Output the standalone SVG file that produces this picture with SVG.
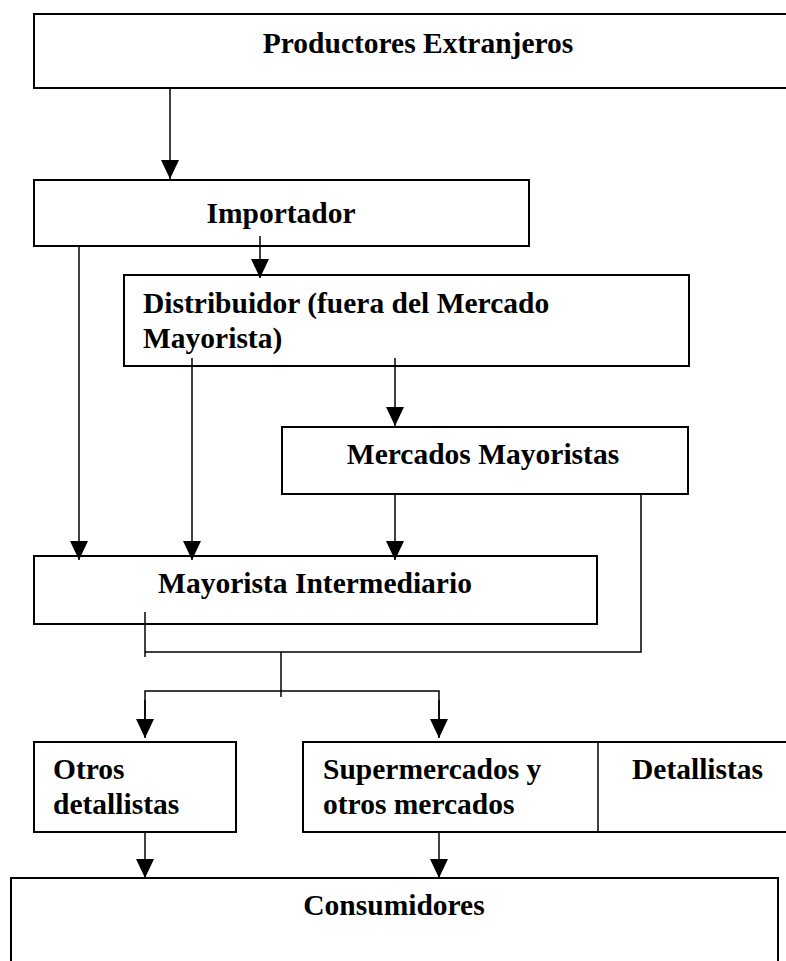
<svg xmlns="http://www.w3.org/2000/svg" width="786" height="961" viewBox="0 0 786 961">
<defs>
<marker id="ah" markerUnits="userSpaceOnUse" markerWidth="20" markerHeight="20" refX="19" refY="9" orient="auto">
<path d="M0,0 L19,9 L0,18 Z" fill="#000"/>
</marker>
<style>
.box{fill:#fff;stroke:#000;stroke-width:2}
.ln{fill:none;stroke:#000;stroke-width:1.5}
.arr{fill:none;stroke:#000;stroke-width:1.5;marker-end:url(#ah)}
text{font-family:"Liberation Serif","Times New Roman",serif;font-weight:bold;font-size:29.5px;fill:#000}
.c{text-anchor:middle}
</style>
</defs>
<rect width="786" height="961" fill="#fff"/>
<g id="productores">
<rect class="box" x="34" y="14" width="780" height="74"/>
<text class="c" x="418" y="53">Productores Extranjeros</text>
</g>
<g id="importador">
<rect class="box" x="34" y="180" width="495" height="66"/>
<text class="c" x="281" y="223">Importador</text>
</g>
<g id="distribuidor">
<rect class="box" x="124" y="275" width="565" height="91"/>
<text x="143" y="313">Distribuidor (fuera del Mercado</text>
<text x="143" y="348">Mayorista)</text>
</g>
<g id="mercados">
<rect class="box" x="282" y="427" width="406" height="67"/>
<text class="c" x="483" y="464">Mercados Mayoristas</text>
</g>
<g id="mayorista">
<rect class="box" x="34" y="556" width="563" height="68"/>
<text class="c" x="315" y="593">Mayorista Intermediario</text>
</g>
<g id="otros">
<rect class="box" x="34" y="742" width="202" height="90"/>
<text x="53" y="779">Otros</text>
<text x="53" y="814">detallistas</text>
</g>
<g id="supermercados">
<rect class="box" x="303" y="742" width="520" height="90"/>
<line x1="598" y1="742" x2="598" y2="832" stroke="#000" stroke-width="1.5"/>
<text x="323" y="779">Supermercados y</text>
<text x="323" y="814">otros mercados</text>
<text x="632" y="779">Detallistas</text>
</g>
<g id="consumidores">
<rect class="box" x="11" y="878" width="767" height="120"/>
<text class="c" x="394" y="915">Consumidores</text>
</g>
<g id="connectors">
<line class="arr" x1="170" y1="88" x2="170" y2="179"/>
<line class="arr" x1="260" y1="236" x2="260" y2="278"/>
<line class="arr" x1="79" y1="246" x2="79" y2="560"/>
<line class="arr" x1="192" y1="358" x2="192" y2="560"/>
<line class="arr" x1="395" y1="358" x2="395" y2="426"/>
<line class="arr" x1="395" y1="494" x2="395" y2="560"/>
<polyline class="ln" points="641,494 641,652 145,652"/>
<line class="ln" x1="145" y1="612" x2="145" y2="657"/>
<line class="ln" x1="281" y1="652" x2="281" y2="697"/>
<polyline class="ln" points="145,737 145,691 439,691 439,737"/>
<line class="arr" x1="145" y1="700" x2="145" y2="738"/>
<line class="arr" x1="439" y1="700" x2="439" y2="738"/>
<line class="arr" x1="145" y1="832" x2="145" y2="878"/>
<line class="arr" x1="439" y1="832" x2="439" y2="878"/>
</g>
</svg>
